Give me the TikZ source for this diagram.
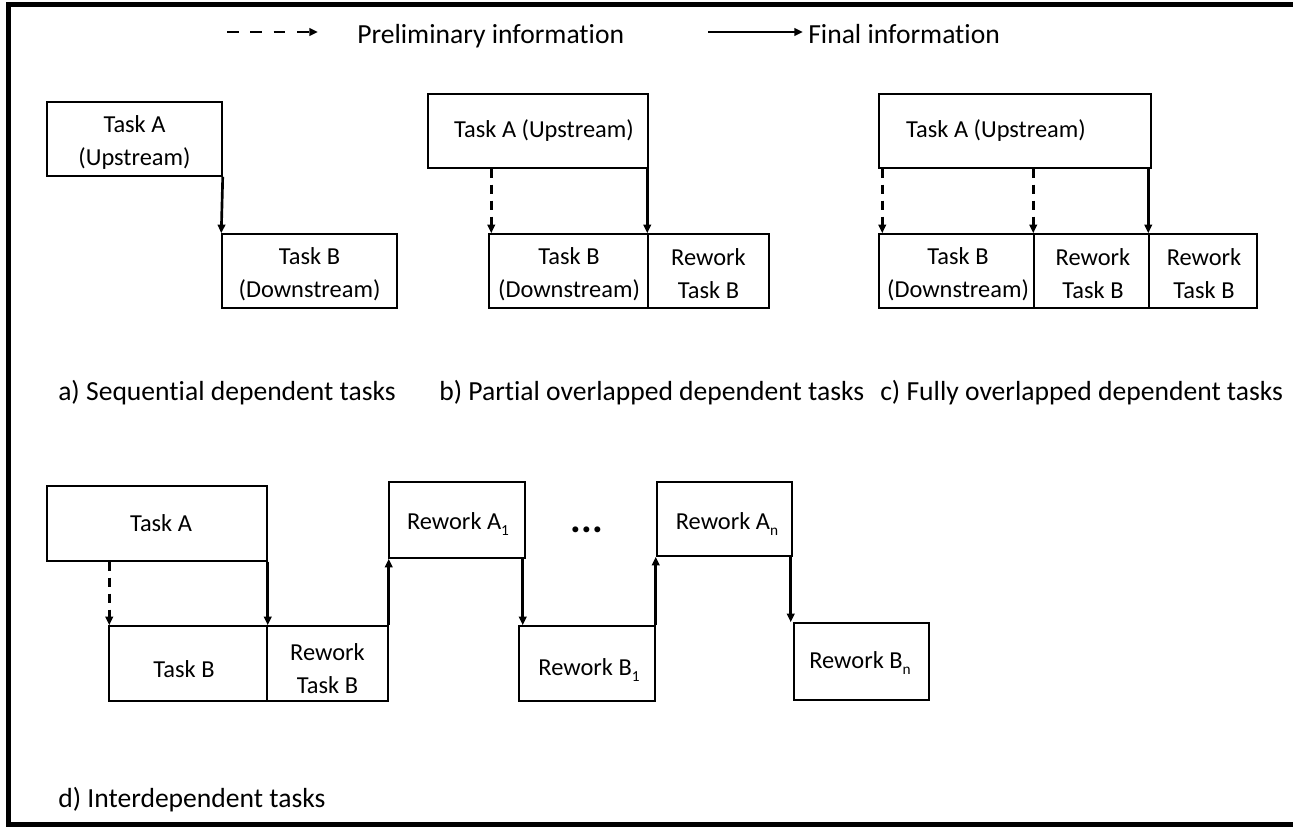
\documentclass[tikz,border=0pt]{standalone}
\usepackage{fontspec}
\setmainfont{Carlito}[Ligatures=NoCommon]
\usetikzlibrary{fit,arrows.meta}
% small lowered index for the rework numbering
\newcommand\lowidx[1]{\raisebox{-0.45ex}{\fontsize{11.5}{11.5}\selectfont #1}}
\begin{document}
\begin{tikzpicture}[x=0.75pt,y=-0.75pt,
  tbox/.style={draw, line width=1.1pt, inner sep=0pt},
  boxtext/.style={align=center, inner sep=0pt, font=\fontsize{18.3}{24.75}\selectfont},
  caption/.style={anchor=base west, inner sep=0pt, font=\fontsize{20.7}{24}\selectfont},
  flow/.style={line width=2pt, -{Triangle[length=6.5pt,width=5.6pt]}},
  prelim/.style={flow, dash pattern=on 7pt off 5pt},
  prelimkey/.style={flow, dash pattern=on 8.75pt off 8.75pt},
  frameline/.style={line width=4pt, line join=miter}]

\useasboundingbox (0,0) rectangle (1293,826);

% outer frame (open on the right)
\draw[frameline] (1300,4.5) -- (8.5,4.5) -- (8.5,824.5) -- (1300,824.5);

% legend
\coordinate (lp1) at (227,32);
\coordinate (lp2) at (318,32);
\draw[prelimkey] (lp1) -- (lp2);
\node[caption] (lpt) at (357,43) {Preliminary information};
\coordinate (lf1) at (708,32);
\coordinate (lf2) at (803,32);
\draw[flow] (lf1) -- (lf2);
\node[caption] (lft) at (808,43) {Final information};

% a) sequential
\node[tbox, fit={(47,102) (222,176)}] (aA) {};
\node[tbox, fit={(222,234) (397,308)}] (aB) {};
\node[boxtext] (aAt) at (134.5,142) {Task A\\(Upstream)};
\node[boxtext] (aBt) at (309.5,274) {Task B\\(Downstream)};
\draw[flow] (aA.south east) -- (aB.north west);

% b) partial overlap
\node[tbox, fit={(428,94) (648,168)}] (bA) {};
\node[tbox, fit={(489,234) (648,308)}] (bB) {};
\node[tbox, fit={(648,234) (769,308)}] (bR) {};
\node[boxtext] (bAt) at (544,131) {Task A (Upstream)};
\node[boxtext] (bBt) at (569,274) {Task B\\(Downstream)};
\node[boxtext] (bRt) at (708.5,274) {Rework\\Task B};
\coordinate (bx) at ([xshift=2.25pt]bB.north west);
\draw[prelim] (bx |- bA.south) -- (bx);
\draw[flow] (bR.north west |- bA.south) -- (bR.north west);

% c) full overlap
\node[tbox, fit={(879,94) (1151,168)}] (cA) {};
\node[tbox, fit={(879,234) (1034,308)}] (cB) {};
\node[tbox, fit={(1034,234) (1149,308)}] (cR1) {};
\node[tbox, fit={(1149,234) (1257,308)}] (cR2) {};
\node[boxtext] (cAt) at (996,131) {Task A (Upstream)};
\node[boxtext] (cBt) at (958,274) {Task B\\(Downstream)};
\node[boxtext] (cR1t) at (1093,274) {Rework\\Task B};
\node[boxtext] (cR2t) at (1204,274) {Rework\\Task B};
\coordinate (cx) at ([xshift=3pt]cB.north west);
\draw[prelim] (cx |- cA.south) -- (cx);
\draw[prelim] (cR1.north west |- cA.south) -- (cR1.north west);
\draw[flow] (cR2.north west |- cA.south) -- (cR2.north west);

% captions
\node[caption] (capA) at (58,400) {a) Sequential dependent tasks};
\node[caption] (capB) at (439,400) {b) Partial overlapped dependent tasks};
\node[caption] (capC) at (880,400) {c) Fully overlapped dependent tasks};
\node[caption] (capD) at (58,807) {d) Interdependent tasks};

% d) interdependent
\node[tbox, fit={(47,486) (267,561)}] (dA) {};
\node[tbox, fit={(109,626) (267,701)}] (dB) {};
\node[tbox, fit={(267,626) (388,701)}] (dRB) {};
\node[tbox, fit={(389,482) (525,558)}] (dRA1) {};
\node[tbox, fit={(519,626) (655,701)}] (dRB1) {};
\node[tbox, fit={(657,482) (792,556)}] (dRAn) {};
\node[tbox, fit={(794,623) (929,700)}] (dRBn) {};
\node[boxtext] (dAt) at (161,523) {Task A};
\node[boxtext] (dBt) at (184,669) {Task B};
\node[boxtext] (dRBt) at (327.5,669) {Rework\\Task B};
\node[boxtext] (dRA1t) at (458,524) {Rework A\lowidx{1}};
\node[boxtext] (dRB1t) at (589,670) {Rework B\lowidx{1}};
\node[boxtext] (dRAnt) at (727,524) {Rework A\lowidx{n}};
\node[boxtext] (dRBnt) at (860,663) {Rework B\lowidx{n}};
\node[inner sep=0pt, font=\fontsize{30}{30}\bfseries\selectfont] (dots) at (587,530) {...};

\coordinate (dx) at ([xshift=0.75pt]dB.north west);
\draw[prelim] (dx |- dA.south) -- (dx);
\draw[flow] (dA.south east) -- (dB.north east);
\draw[flow] (dRB.north east) -- (dRB.north east |- dRA1.south);
\coordinate (dx1) at ([xshift=-2.25pt]dRA1.south east);
\draw[flow] (dx1) -- (dx1 |- dRB1.north);
\draw[flow] (dRB1.north east) -- (dRB1.north east |- dRAn.south);
\coordinate (dx2) at ([xshift=-1.5pt]dRAn.south east);
\draw[flow] (dx2) -- (dx2 |- dRBn.north);

\end{tikzpicture}
\end{document}
